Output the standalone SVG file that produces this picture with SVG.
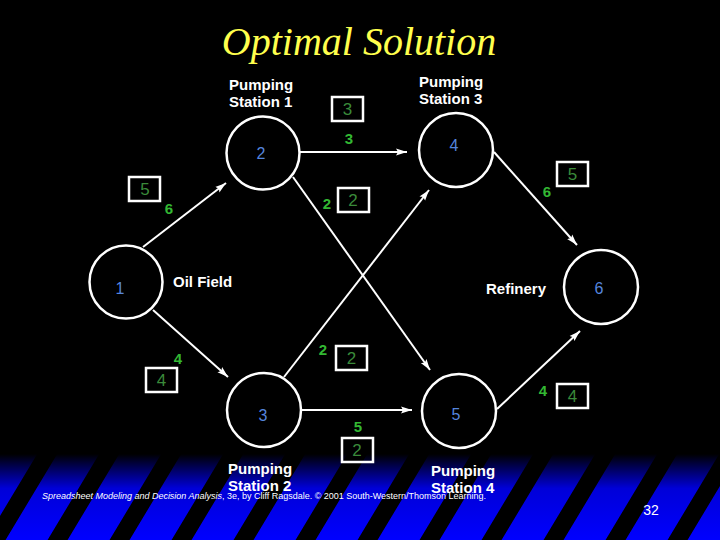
<svg xmlns="http://www.w3.org/2000/svg" width="720" height="540" viewBox="0 0 720 540">
<defs>
<linearGradient id="bg" x1="0" y1="0" x2="0" y2="1">
<stop offset="0" stop-color="#000000"/>
<stop offset="0.4" stop-color="#0000d8"/>
<stop offset="1" stop-color="#0000ff"/>
</linearGradient>
<pattern id="stripes" patternUnits="userSpaceOnUse" width="62" height="100" patternTransform="skewX(-31)">
<rect x="0" y="0" width="20" height="100" fill="#000"/>
</pattern>
<marker id="arr" markerUnits="userSpaceOnUse" markerWidth="12" markerHeight="8" refX="11" refY="4" orient="auto">
<path d="M0,0.5 L11,4 L0,7.5 L2,4 z" fill="#fff"/>
</marker>
<style>
.node circle{fill:#000;stroke:#fff;stroke-width:2.5}
.nid{font-family:"Liberation Sans",Arial,sans-serif;font-size:16px;fill:#5585dd;text-anchor:middle}
.lbl{font-family:"Liberation Sans",Arial,sans-serif;font-weight:bold;font-size:15px;fill:#fff}
.flow{font-family:"Liberation Sans",Arial,sans-serif;font-weight:bold;font-size:15px;fill:#33b833;text-anchor:middle}
.cap rect{fill:none;stroke:#fff;stroke-width:2.5}
.cap text{font-family:"Liberation Sans",Arial,sans-serif;font-size:17px;fill:#3a8a3a;text-anchor:middle}
.edge{stroke:#fff;stroke-width:2;fill:none;marker-end:url(#arr)}
</style>
</defs>
<rect x="0" y="0" width="720" height="540" fill="#000"/>
<rect x="0" y="454" width="720" height="86" fill="url(#bg)"/>
<rect x="0" y="454" width="720" height="86" fill="url(#stripes)"/>

<text x="359" y="55" font-family="'Liberation Serif','Times New Roman',serif" font-style="italic" font-size="40" fill="#ffff4d" text-anchor="middle">Optimal Solution</text>

<g id="connectors">
<line class="edge" x1="143" y1="247" x2="226" y2="183"/>
<line class="edge" x1="300" y1="152" x2="407" y2="152"/>
<line class="edge" x1="293" y1="177" x2="430" y2="370"/>
<line class="edge" x1="153" y1="310" x2="228" y2="377"/>
<line class="edge" x1="284" y1="377" x2="429" y2="190"/>
<line class="edge" x1="301" y1="410" x2="412" y2="410"/>
<line class="edge" x1="494" y1="152" x2="577" y2="245"/>
<line class="edge" x1="497" y1="409" x2="580" y2="331"/>
</g>

<g id="edge-labels">
<text class="flow" x="169" y="213.5">6</text>
<text class="flow" x="349" y="143.5">3</text>
<text class="flow" x="327" y="208.5">2</text>
<text class="flow" x="178" y="363.5">4</text>
<text class="flow" x="323" y="354.5">2</text>
<text class="flow" x="358" y="431.5">5</text>
<text class="flow" x="547" y="196.5">6</text>
<text class="flow" x="543" y="395.5">4</text>
<g class="cap"><rect x="129" y="177" width="31" height="24"/><text x="145" y="195">5</text></g>
<g class="cap"><rect x="332" y="97" width="31" height="24"/><text x="347.5" y="115">3</text></g>
<g class="cap"><rect x="338" y="188" width="31" height="24"/><text x="353" y="206">2</text></g>
<g class="cap"><rect x="146" y="368" width="31" height="24"/><text x="161.5" y="386">4</text></g>
<g class="cap"><rect x="336" y="346" width="31" height="24"/><text x="351.5" y="364">2</text></g>
<g class="cap"><rect x="342" y="438" width="31" height="24"/><text x="357" y="456">2</text></g>
<g class="cap"><rect x="557" y="162" width="31" height="24"/><text x="572.5" y="180">5</text></g>
<g class="cap"><rect x="557" y="384" width="31" height="24"/><text x="572.5" y="402">4</text></g>
</g>

<g id="node1" class="node">
<circle cx="126" cy="282" r="36.5"/>
<text class="nid" x="120" y="294">1</text>
<text class="lbl" x="173" y="286.5" font-size="14.5">Oil Field</text>
</g>
<g id="node2" class="node">
<circle cx="263" cy="153" r="36.5"/>
<text class="nid" x="261" y="158.5">2</text>
<text class="lbl" x="229" y="89.5">Pumping</text>
<text class="lbl" x="229" y="107">Station 1</text>
</g>
<g id="node3" class="node">
<circle cx="264" cy="410" r="37"/>
<text class="nid" x="263" y="421">3</text>
<text class="lbl" x="228" y="473.5">Pumping</text>
<text class="lbl" x="228" y="491">Station 2</text>
</g>
<g id="node4" class="node">
<circle cx="456" cy="150" r="37"/>
<text class="nid" x="454" y="151">4</text>
<text class="lbl" x="419" y="86.5">Pumping</text>
<text class="lbl" x="419" y="104">Station 3</text>
</g>
<g id="node5" class="node">
<circle cx="459" cy="411" r="37"/>
<text class="nid" x="456" y="420">5</text>
<text class="lbl" x="431" y="475.5">Pumping</text>
<text class="lbl" x="431" y="492.5">Station 4</text>
</g>
<g id="node6" class="node">
<circle cx="601" cy="287" r="37"/>
<text class="nid" x="599" y="293.5">6</text>
<text class="lbl" x="486" y="293.5" font-size="14.5">Refinery</text>
</g>

<text x="42" y="499" font-family="'Liberation Sans',Arial,sans-serif" font-size="9.5" fill="#fff" textLength="444" lengthAdjust="spacingAndGlyphs"><tspan font-style="italic">Spreadsheet Modeling and Decision Analysis</tspan>, 3e, by Cliff Ragsdale. © 2001 South-Western/Thomson Learning.</text>
<text x="651" y="515" font-family="'Liberation Sans',Arial,sans-serif" font-size="14" fill="#fff" text-anchor="middle">32</text>
</svg>
